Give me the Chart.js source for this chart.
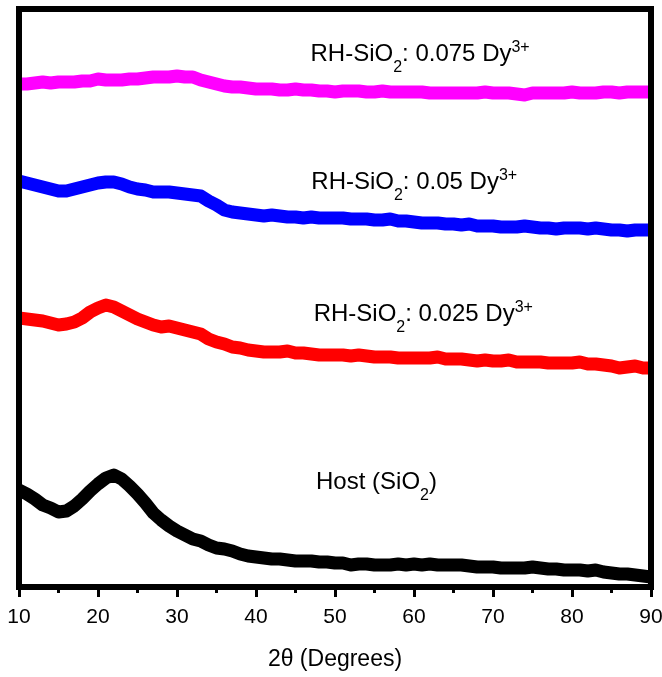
<!DOCTYPE html>
<html>
<head>
<meta charset="utf-8">
<script src="https://cdn.jsdelivr.net/npm/chart.js@4.4.1/dist/chart.umd.min.js"></script>
<style>
html,body{margin:0;padding:0;background:#fff;}
canvas{display:block;}
</style>
</head>
<body>
<canvas id="c" width="662" height="677"></canvas>
<script>
// 2θ positions (degrees)
const twoTheta = [10,11,12,13,14,15,16,17,18,19,20,21,22,23,24,25,26,27,28,29,30,31,32,33,34,35,36,37,38,39,40,41,42,43,44,45,46,47,48,49,50,51,52,53,54,55,56,57,58,59,60,61,62,63,64,65,66,67,68,69,70,71,72,73,74,75,76,77,78,79,80,81,82,83,84,85,86,87,88,89,90];

// Intensities (a.u., stacked offsets as plotted)
const hostSiO2 = [97,93,88,82,79,75,76,81,88,96,103,109,112,108,101,93,84,74,67,61,56,52,48,46,42,39,38,36,33,31,30,29,28,28,27,26,26,26,25,25,24,24,22,23,23,22,22,22,23,22,23,22,23,22,22,22,22,21,20,20,20,19,19,19,19,20,19,18,18,17,17,17,16,17,15,14,13,13,12,11,10];
const dy025 = [269,268,267,266,264,262,263,265,269,275,279,282,280,276,272,268,265,262,260,261,259,257,255,253,248,245,243,240,239,237,236,235,235,235,236,234,234,233,232,232,232,232,231,232,231,230,230,230,229,229,229,229,229,230,228,228,228,227,226,227,226,226,227,225,225,225,225,224,224,224,224,225,223,223,222,221,219,220,221,219,219];
const dy05 = [406,404,402,400,398,396,396,398,400,402,404,405,405,403,400,398,397,395,395,395,394,393,392,391,386,382,377,375,374,373,372,371,372,371,370,370,369,370,369,369,369,369,368,368,368,367,367,368,366,366,365,364,364,364,363,363,362,363,361,361,361,360,360,360,361,360,359,359,358,359,359,359,358,359,358,357,357,356,357,357,357];
const dy075 = [503,503,504,505,504,505,505,505,506,506,508,507,507,507,508,508,509,510,510,510,511,510,510,507,505,503,501,500,500,499,498,498,498,497,497,498,497,497,496,496,495,496,496,496,495,495,496,495,495,495,495,495,494,494,494,494,494,494,494,495,494,494,494,493,492,494,494,494,494,494,495,494,494,494,495,495,494,495,495,495,495];

const seriesNames = ['Host (SiO2)','RH-SiO2: 0.025 Dy3+','RH-SiO2: 0.05 Dy3+','RH-SiO2: 0.075 Dy3+'];
const seriesColors = ['#000000','#ff0000','#0000ff','#ff00ff'];
const xTicks = [10,20,30,40,50,60,70,80,90];
const xMinorTicks = [15,25,35,45,55,65,75,85];

// label anchors in data coordinates: [2θ, intensity]
const labelAnchors = [[47.6, 98],[47.3, 266],[47.0, 398],[46.9, 526]];
const labelParts = [
  [['Host (SiO','n'],['2','sub'],[')','n']],
  [['RH-SiO','n'],['2','sub'],[': 0.025 Dy','n'],['3+','sup']],
  [['RH-SiO','n'],['2','sub'],[': 0.05 Dy','n'],['3+','sup']],
  [['RH-SiO','n'],['2','sub'],[': 0.075 Dy','n'],['3+','sup']]
];

const FONT = "'Liberation Sans', Arial, sans-serif";
const allSeries = [hostSiO2, dy025, dy05, dy075];

const datasets = allSeries.map((vals, i) => ({
  label: seriesNames[i],
  data: twoTheta.map((x, j) => ({x: x, y: vals[j]})),
  borderColor: seriesColors[i],
  backgroundColor: seriesColors[i],
  borderWidth: 13,
  pointRadius: 0,
  tension: 0,
  borderJoinStyle: 'round',
  borderCapStyle: 'round'
}));

const framePlugin = {
  id: 'frame',
  afterDatasetsDraw(chart) {
    const {ctx, chartArea: a, scales} = chart;
    ctx.save();
    ctx.strokeStyle = '#000';
    ctx.lineWidth = 6;
    ctx.strokeRect(a.left, a.top, a.right - a.left, a.bottom - a.top);
    // minor ticks
    ctx.lineWidth = 3;
    ctx.beginPath();
    xMinorTicks.forEach(v => {
      const px = scales.x.getPixelForValue(v);
      ctx.moveTo(px, a.bottom);
      ctx.lineTo(px, a.bottom + 6);
    });
    ctx.stroke();
    // labels
    ctx.fillStyle = '#000';
    ctx.textBaseline = 'alphabetic';
    ctx.textAlign = 'left';
    labelAnchors.forEach((anc, i) => {
      let x = scales.x.getPixelForValue(anc[0]);
      const y = scales.y.getPixelForValue(anc[1]);
      labelParts[i].forEach(([txt, kind]) => {
        let size = 24, dy = 0;
        if (kind === 'sub') { size = 16; dy = 11; }
        if (kind === 'sup') { size = 16; dy = -9; }
        ctx.font = size + 'px ' + FONT;
        ctx.fillText(txt, x, y + dy);
        x += ctx.measureText(txt).width;
      });
    });
    ctx.restore();
  }
};

new Chart(document.getElementById('c'), {
  type: 'line',
  data: { datasets },
  options: {
    responsive: false,
    animation: false,
    layout: { padding: { left: 19, right: 5, top: 9, bottom: 0 } },
    plugins: { legend: { display: false }, tooltip: { enabled: false } },
    scales: {
      x: {
        type: 'linear',
        min: 10, max: 90,
        afterFit(scale) { scale.height = 90; scale.paddingRight = 11; scale.paddingLeft = 0; },
        afterBuildTicks(scale) { scale.ticks = xTicks.map(v => ({value: v})); },
        border: { display: false },
        grid: { drawOnChartArea: false, drawTicks: true, tickLength: 10, tickWidth: 3, tickColor: '#000' },
        ticks: { color: '#000', font: { family: FONT, size: 21 }, padding: 8, maxRotation: 0, autoSkip: false },
        title: { display: true, text: '2θ (Degrees)', color: '#000', font: { family: FONT, size: 23 }, padding: { top: 0, bottom: 4 } }
      },
      y: {
        display: false,
        min: 0, max: 578
      }
    }
  },
  plugins: [framePlugin]
});
</script>
</body>
</html>
